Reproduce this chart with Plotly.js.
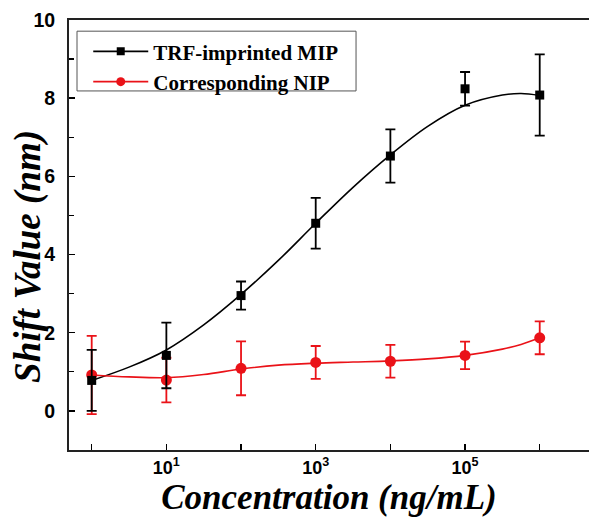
<!DOCTYPE html>
<html>
<head>
<meta charset="utf-8">
<script src="https://cdn.plot.ly/plotly-3.0.1.min.js"></script>
<style>html,body{margin:0;padding:0;background:#fff;}#chart{width:589px;height:520px;}</style>
</head>
<body>
<div id="chart"></div>
<script>
// Measured data (concentration in ng/mL)
var conc = [1, 10, 100, 1000, 10000, 100000, 1000000];
var mipShift = [0.78, 1.42, 2.95, 4.80, 6.52, 8.24, 8.08];
var mipErr   = [0.78, 0.84, 0.36, 0.65, 0.68, 0.43, 1.04];
var nipShift = [0.92, 0.79, 1.09, 1.24, 1.27, 1.42, 1.87];
var nipErr   = [1.00, 0.57, 0.69, 0.42, 0.42, 0.35, 0.42];

// Fitted curves
var fitConc = [1, 3.16, 10, 31.6, 100, 316, 1000, 3162, 10000, 31623, 100000, 316228, 562341, 1000000];
var mipFit  = [0.78, 1.12, 1.56, 2.20, 2.98, 3.85, 4.80, 5.72, 6.55, 7.28, 7.82, 8.08, 8.12, 8.07];
var nipFit  = [0.92, 0.87, 0.85, 0.93, 1.07, 1.17, 1.22, 1.25, 1.28, 1.33, 1.42, 1.58, 1.70, 1.87];

var xLabelVals = [10, 1000, 100000];
var xLabelText = ['10<sup>1</sup>', '10<sup>3</sup>', '10<sup>5</sup>'];
var xMinorVals = [1, 100, 10000, 1000000];
var yLabelVals = [0, 2, 4, 6, 8, 10];
var yMinorVals = [1, 3, 5, 7, 9];

var black = '#000000', red = '#ea1218';
var serif = 'Liberation Serif, Times New Roman, serif';
var sans = 'Liberation Sans, Arial, sans-serif';

var traces = [
  {x: fitConc, y: mipFit, mode: 'lines', line: {color: black, width: 1.6, shape: 'spline'}, showlegend: false, hoverinfo: 'skip'},
  {x: fitConc, y: nipFit, mode: 'lines', line: {color: red, width: 1.6, shape: 'spline'}, showlegend: false, hoverinfo: 'skip'},
  {x: conc, y: nipShift, mode: 'markers', marker: {symbol: 'circle', size: 11, color: red},
   error_y: {type: 'data', array: nipErr, visible: true, color: red, thickness: 1.8, width: 5}, showlegend: false},
  {x: conc, y: mipShift, mode: 'markers', marker: {symbol: 'square', size: 9, color: black},
   error_y: {type: 'data', array: mipErr, visible: true, color: black, thickness: 1.8, width: 5}, showlegend: false},
  {x: [null], y: [null], mode: 'lines+markers', name: 'TRF-imprinted MIP',
   line: {color: black, width: 1.6}, marker: {symbol: 'square', size: 8, color: black}},
  {x: [null], y: [null], mode: 'lines+markers', name: 'Corresponding NIP',
   line: {color: red, width: 1.6}, marker: {symbol: 'circle', size: 9, color: red}}
];

var layout = {
  width: 589, height: 520,
  margin: {l: 69, r: 0, t: 20, b: 70},
  paper_bgcolor: '#fff', plot_bgcolor: '#fff',
  showlegend: true,
  legend: {
    x: 0.037, y: 0.974, xanchor: 'left', yanchor: 'top',
    borderwidth: 0, bgcolor: 'rgba(0,0,0,0)',
    font: {family: serif, size: 21, color: '#000', weight: 'bold'},
    itemwidth: 55, tracegroupgap: 0
  },
  shapes: [{
    type: 'rect', xref: 'paper', yref: 'paper',
    x0: 0.0154, x1: 0.552, y0: 0.835, y1: 0.974,
    line: {color: '#555', width: 1}, fillcolor: 'rgba(0,0,0,0)', layer: 'above'
  }],
  xaxis: {
    type: 'log', range: [-0.304, 6.66],
    tickvals: xLabelVals, ticktext: xLabelText,
    ticks: 'inside', ticklen: 6, tickwidth: 1.5, tickcolor: '#000',
    minor: {tickvals: xMinorVals, ticks: 'inside', ticklen: 6, tickwidth: 1.5, tickcolor: '#000', showgrid: false},
    showline: true, linecolor: '#222', linewidth: 2, mirror: true,
    showgrid: false, zeroline: false,
    tickfont: {family: sans, size: 18, color: '#000', weight: 'bold'},
    title: {text: '<i>Concentration (ng/mL)</i>', standoff: 5,
            font: {family: serif, size: 35, color: '#000', weight: 'bold'}}
  },
  yaxis: {
    range: [-1, 10], tickvals: yLabelVals,
    ticks: 'inside', ticklen: 6, tickwidth: 1.5, tickcolor: '#000',
    minor: {tickvals: yMinorVals, ticks: 'inside', ticklen: 5, tickwidth: 1.2, tickcolor: '#000', showgrid: false},
    showline: true, linecolor: '#222', linewidth: 2, mirror: false,
    showgrid: false, zeroline: false, ticklabelstandoff: 8,
    tickfont: {family: sans, size: 19.5, color: '#000', weight: 'bold'}
  },
  annotations: [{
    text: '<i>Shift Value (nm)</i>', xref: 'paper', yref: 'paper',
    x: -0.08, y: 0.45, xanchor: 'center', yanchor: 'middle', textangle: -90, showarrow: false,
    font: {family: serif, size: 37, color: '#000', weight: 'bold'}
  }]
};

Plotly.newPlot('chart', traces, layout, {displayModeBar: false, staticPlot: true});
</script>
</body>
</html>
